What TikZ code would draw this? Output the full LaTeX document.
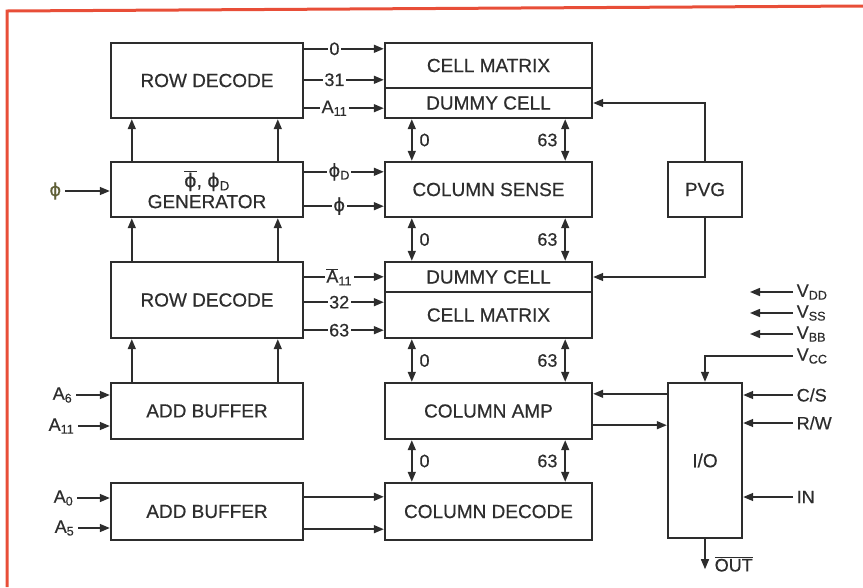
\documentclass[tikz,border=0pt]{standalone}
\usepackage{fontspec}
\setmainfont{Liberation Sans}[FakeBold=0.5]
\newfontfamily\phifont{DejaVu Sans}[FakeBold=0.3]
\usepackage{tikz}
\usetikzlibrary{positioning, arrows.meta, calc}

\definecolor{ink}{RGB}{45,45,45}
\definecolor{frame}{RGB}{232,78,56}
\definecolor{phiink}{RGB}{95,95,55}
\newcommand{\ph}{{\phifont ϕ}}

\begin{document}
\begin{tikzpicture}[x=1pt, y=-1pt,
			block/.style={draw=ink, line width=2.4pt, minimum height=#1, inner sep=0pt, text=ink, font=\fontsize{19}{21}\selectfont},
			leftblock/.style={block=#1, minimum width=192pt},
			midblock/.style={block=#1, minimum width=207pt},
			sideblock/.style={block=#1, minimum width=74pt},
			sig/.style={-{Triangle[length=10pt, width=8pt]}, draw=ink, line width=1.5pt},
			bus/.style={{Triangle[length=10pt, width=8pt]}-{Triangle[length=10pt, width=8pt]}, draw=ink, line width=1.5pt},
			lbl/.style={fill=white, inner sep=1.5pt, text=ink, font=\fontsize{18}{20}\selectfont},
			pin/.style={inner sep=3pt, text=ink, font=\fontsize{18}{20}\selectfont},
			bitno/.style={pin, inner xsep=7pt}
			]
			\useasboundingbox (0,0) rectangle (863,587);
			
			% Page frame
			\draw[frame, line width=3pt] (863,6) -- (7,11) -- (7,587);
			
			% Row side
			\node[leftblock=75pt] (rowdecA) at (207,80.5) {ROW DECODE};
			\node[leftblock=55pt, align=center] (gen) at (207,189.5) {$\overline{\mbox{\ph}}$, \ph\textsubscript{D}\\GENERATOR};
			\node[leftblock=76pt] (rowdecB) at (207,300) {ROW DECODE};
			\node[leftblock=56pt] (bufA) at (207,411) {ADD BUFFER};
			\node[leftblock=57pt] (bufB) at (207,511.5) {ADD BUFFER};
			
			% Array column
			\node[midblock=45pt] (cellA) at (488.5,65.5) {CELL MATRIX};
			\node[midblock=30pt] (dummyA) at (488.5,103) {DUMMY CELL};
			\node[midblock=55pt] (sense) at (488.5,189.5) {COLUMN SENSE};
			\node[midblock=30pt] (dummyB) at (488.5,277) {DUMMY CELL};
			\node[midblock=46pt] (cellB) at (488.5,315) {CELL MATRIX};
			\node[midblock=56pt] (amp) at (488.5,411) {COLUMN AMP};
			\node[midblock=57pt] (coldec) at (488.5,511.5) {COLUMN DECODE};
			
			\node[sideblock=55pt] (pvg) at (705,189.5) {PVG};
			\node[sideblock=155pt] (io) at (705,460.5) {I/O};
			
			% Upward feeds on the row side
			\draw[sig] ([xshift=22pt]gen.north west) -- ([xshift=22pt]rowdecA.south west);
			\draw[sig] ([xshift=168pt]gen.north west) -- ([xshift=168pt]rowdecA.south west);
			\draw[sig] ([xshift=22pt]rowdecB.north west) -- ([xshift=22pt]gen.south west);
			\draw[sig] ([xshift=168pt]rowdecB.north west) -- ([xshift=168pt]gen.south west);
			\draw[sig] ([xshift=22pt]bufA.north west) -- ([xshift=22pt]rowdecB.south west);
			\draw[sig] ([xshift=168pt]bufA.north west) -- ([xshift=168pt]rowdecB.south west);
			
			% Row lines into the array
			\draw[sig] ([yshift=-7pt]rowdecA.north east) -- node[lbl, pos=0.38] {0} ([yshift=-7pt]cellA.north west);
			\draw[sig] ([yshift=-38pt]rowdecA.north east) -- node[lbl, pos=0.38] {31} ([yshift=-38pt]cellA.north west);
			\draw[sig] ([yshift=11pt]rowdecA.south east) -- node[lbl, pos=0.38] {A\textsubscript{11}} ([yshift=11pt]dummyA.south west);
			\draw[sig] ([yshift=-11pt]gen.north east) -- node[lbl, pos=0.44] {\ph\textsubscript{D}} ([yshift=-11pt]sense.north west);
			\draw[sig] ([yshift=12pt]gen.south east) -- node[lbl, pos=0.44] {\ph} ([yshift=12pt]sense.south west);
			\draw[sig] ([yshift=-16pt]rowdecB.north east) -- node[lbl, pos=0.44] {$\overline{\mbox{A}}$\textsubscript{11}} ([yshift=-16pt]dummyB.north west);
			\draw[sig] ([yshift=37pt]rowdecB.south east) -- node[lbl, pos=0.44] {32} ([yshift=37pt]cellB.south west);
			\draw[sig] ([yshift=9pt]rowdecB.south east) -- node[lbl, pos=0.44] {63} ([yshift=9pt]cellB.south west);
			\draw[sig] ([yshift=-15pt]bufB.north east) -- ([yshift=-15pt]coldec.north west);
			\draw[sig] ([yshift=12pt]bufB.south east) -- ([yshift=12pt]coldec.south west);
			
			% Bit lines between array blocks
			\draw[bus] ([xshift=28pt]dummyA.south west) -- node[bitno, right] {0} ([xshift=28pt]sense.north west);
			\draw[bus] ([xshift=-28pt]dummyA.south east) -- node[bitno, left] {63} ([xshift=-28pt]sense.north east);
			\draw[bus] ([xshift=28pt]sense.south west) -- node[bitno, right] {0} ([xshift=28pt]dummyB.north west);
			\draw[bus] ([xshift=-28pt]sense.south east) -- node[bitno, left] {63} ([xshift=-28pt]dummyB.north east);
			\draw[bus] ([xshift=28pt]cellB.south west) -- node[bitno, right] {0} ([xshift=28pt]amp.north west);
			\draw[bus] ([xshift=-28pt]cellB.south east) -- node[bitno, left] {63} ([xshift=-28pt]amp.north east);
			\draw[bus] ([xshift=28pt]amp.south west) -- node[bitno, right] {0} ([xshift=28pt]coldec.north west);
			\draw[bus] ([xshift=-28pt]amp.south east) -- node[bitno, left] {63} ([xshift=-28pt]coldec.north east);
			
			% Inputs on the left
			\coordinate (inphi) at (65,191);
			\coordinate (ina6) at (76,395);
			\coordinate (ina11) at (78,426);
			\coordinate (ina0) at (77,498);
			\coordinate (ina5) at (78,528);
			\draw[sig] (inphi) node[pin, left, text=phiink] {\ph} -- (inphi -| gen.west);
			\draw[sig] (ina6) node[pin, left] {A\textsubscript{6}} -- (ina6 -| bufA.west);
			\draw[sig] (ina11) node[pin, left] {A\textsubscript{11}} -- (ina11 -| bufA.west);
			\draw[sig] (ina0) node[pin, left] {A\textsubscript{0}} -- (ina0 -| bufB.west);
			\draw[sig] (ina5) node[pin, left] {A\textsubscript{5}} -- (ina5 -| bufB.west);
			
			% Reference voltage to the dummy cells
			\draw[sig] (pvg.north) |- (dummyA.east);
			\draw[sig] (pvg.south) |- (dummyB.east);
			
			% Data path to I/O
			\coordinate (ampin) at ([yshift=-12pt]amp.north east);
			\coordinate (ampout) at ([yshift=15pt]amp.south east);
			\draw[sig] (ampin -| io.west) -- (ampin);
			\draw[sig] (ampout) -- (ampout -| io.west);
			
			% Supplies and control pins
			\coordinate (vdd) at (793,292);
			\coordinate (vss) at (793,313);
			\coordinate (vbb) at (793,334);
			\coordinate (vcc) at (793,356);
			\coordinate (cs) at (793,395);
			\coordinate (rw) at (793,423);
			\coordinate (din) at (793,497);
			\draw[sig] (vdd) node[pin, right] {V\textsubscript{DD}} -- ++(-43,0);
			\draw[sig] (vss) node[pin, right] {V\textsubscript{SS}} -- ++(-43,0);
			\draw[sig] (vbb) node[pin, right] {V\textsubscript{BB}} -- ++(-43,0);
			\draw[sig] (vcc) node[pin, right] {V\textsubscript{CC}} -| (io.north);
			\draw[sig] (cs) node[pin, right] {C/S} -- (cs -| io.east);
			\draw[sig] (rw) node[pin, right] {R/W} -- (rw -| io.east);
			\draw[sig] (din) node[pin, right] {IN} -- (din -| io.east);
			\draw[sig] (io.south) -- ++(0,30) node[pin, right, xshift=6pt, yshift=5pt] {$\overline{\mbox{OUT}}$};
		\end{tikzpicture}
\end{document}
